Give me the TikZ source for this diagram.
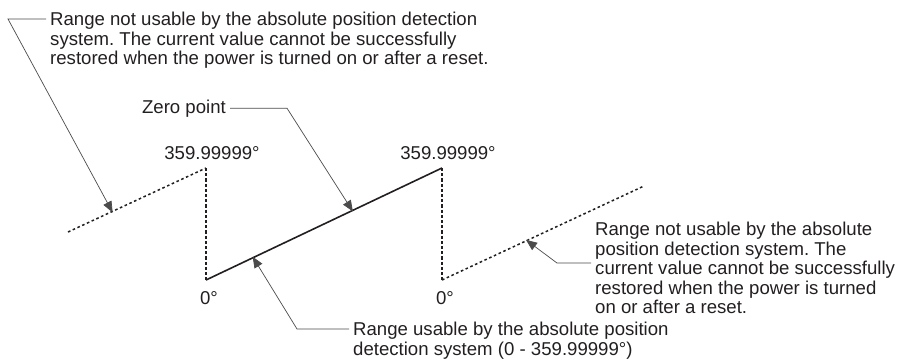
\documentclass[tikz,border=0pt]{standalone}
\usepackage{fontspec}
\setmainfont{Liberation Sans}
\usetikzlibrary{arrows.meta,calc,positioning}
\definecolor{ink}{RGB}{35,31,32}
\definecolor{lead}{RGB}{75,75,75}
\frenchspacing

\begin{document}
\begin{tikzpicture}[x=1pt,y=-1pt,>={Triangle[length=11pt,width=9pt]},
 note/.style={inner sep=0pt,align=left,text=ink,font=\fontsize{18.6}{19.5}\selectfont},
 lbl/.style={inner sep=0pt,text=ink,font=\fontsize{18.6}{19.5}\selectfont},
 curve/.style={draw=ink,line width=1.6pt},
 dots/.style={draw=ink,line width=1.5pt,dash pattern=on 2.6pt off 2.6pt},
 drop/.style={draw=ink,line width=1.6pt,dash pattern=on 3.2pt off 2pt},
 leader/.style={draw=lead,line width=0.7pt,->,shorten >=-1pt}]
\useasboundingbox (0,0) rectangle (898,360);
\coordinate (a0) at (68,232);
\coordinate (p1) at (206,168);
\coordinate (v1) at (206,280);
\coordinate (p2) at (442,168);
\coordinate (v2) at (442,280);
\coordinate (a3) at (644,186);
\draw[dots] (a0) -- (p1);
\draw[drop] (p1) -- (v1);
\draw[curve] (v1) -- (p2);
\draw[drop] (p2) -- (v2);
\draw[dots] (v2) -- (a3);
\coordinate (tipL) at ($(a0)!0.32!(p1)$);
\coordinate (tipZ) at ($(v1)!0.62!(p2)$);
\coordinate (tipU) at ($(v1)!0.2!(p2)$);
\coordinate (tipR) at ($(v2)!0.42!(a3)$);
\node[lbl,anchor=south] (maxA) at ([xshift=6pt,yshift=8pt]p1) {359.99999°};
\node[lbl,anchor=south] (maxB) at ([xshift=6pt,yshift=8pt]p2) {359.99999°};
\node[lbl,anchor=north] (minA) at ([xshift=3pt,yshift=-11pt]v1) {0°};
\node[lbl,anchor=north] (minB) at ([xshift=3pt,yshift=-11pt]v2) {0°};
\node[note,anchor=north west] (noteL) at (50,12) {Range not usable by the absolute position detection\\system. The current value cannot be successfully\\restored when the power is turned on or after a reset.};
\node[lbl,anchor=base east] (zero) at (226,113) {Zero point};
\node[note,anchor=north west] (noteU) at (353,322) {Range usable by the absolute position\\detection system (0 - 359.99999°)};
\node[note,anchor=north west] (noteR) at (595,222) {Range not usable by the absolute\\position detection system. The\\current value cannot be successfully\\restored when the power is turned\\on or after a reset.};
\draw[leader] ([shift={(-4,7)}]noteL.north west) -- (8,19) -- (tipL);
\draw[leader] ([xshift=4pt]zero.east) -- ++(57,0) -- (tipZ);
\draw[leader] ([shift={(-4,7)}]noteU.north west) -- ++(-52,0) -- (tipU);
\draw[leader] ([shift={(-4,41)}]noteR.north west) -- ++(-34,0) -- (tipR);
\end{tikzpicture}
\end{document}
